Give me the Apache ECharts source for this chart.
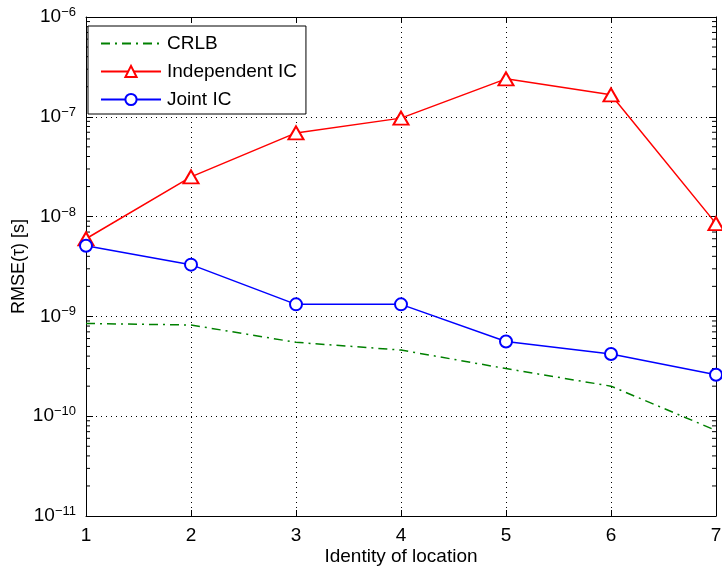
<!DOCTYPE html>
<html>
<head>
<meta charset="utf-8">
<script src="https://cdn.jsdelivr.net/npm/echarts@6/dist/echarts.min.js"></script>
<style>
  html, body { margin: 0; padding: 0; background: #fff; }
</style>
</head>
<body>
<div id="main" style="width: 722px;height:574px;"></div>
<script>
// location ids on the x axis
const locations = [1, 2, 3, 4, 5, 6, 7];
// RMSE values
const crlb = [8.5e-10, 8.2e-10, 5.5e-10, 4.6e-10, 3.0e-10, 2.0e-10, 7.2e-11];
const independentIC = [6.0e-9, 2.5e-8, 6.9e-8, 9.7e-8, 2.4e-7, 1.66e-7, 8.5e-9];
const jointIC = [5.1e-9, 3.3e-9, 1.32e-9, 1.32e-9, 5.6e-10, 4.2e-10, 2.6e-10];
// decade range of the y axis
const yMin = 1e-11;
const yMax = 1e-6;

const font = "Liberation Sans, Arial, sans-serif";

// minor tick values 2..9 x 10^k in each decade
const minorTicks = [];
for (let k = -11; k < -6; k++) {
  for (let m = 2; m <= 9; m++) minorTicks.push([1, m * Math.pow(10, k)]);
}

function pair(a) {
  return locations.map((x, i) => [x, a[i]]);
}

const chartDom = document.getElementById("main");
const myChart = echarts.init(chartDom);

const yLabel = {
  color: "#000",
  margin: 10,
  formatter: function (v) {
    const e = Math.round(Math.log10(v));
    return "{b|10}{s|" + (e < 0 ? "\u2212" : "") + Math.abs(e) + "}";
  },
  rich: {
    b: { fontSize: 19, fontFamily: font, color: "#000", lineHeight: 22 },
    s: { fontSize: 13, fontFamily: font, color: "#000", verticalAlign: "top", lineHeight: 13, padding: [0, 0, 12, 0] },
  },
};

const option = {
  animation: false,
  backgroundColor: "#fff",
  grid: { left: 86, right: 6, top: 17, bottom: 58, containLabel: false, outerBoundsMode: "none" },
  legend: {
    data: [
      { name: "CRLB", itemStyle: { opacity: 0 } },
      "Independent IC",
      "Joint IC",
    ],
    orient: "vertical",
    left: 88,
    top: 26,
    itemWidth: 60,
    itemHeight: 14,
    itemGap: 9,
    padding: [8, 9, 5, 12],
    borderColor: "#000",
    borderWidth: 1,
    borderRadius: 0,
    backgroundColor: "#fff",
    textStyle: { color: "#000", fontSize: 19, fontFamily: font, padding: [0, 0, 0, 1] },
  },
  xAxis: [
    {
      type: "value",
      min: 1,
      max: 7,
      interval: 1,
      name: "Identity of location",
      nameLocation: "middle",
      nameGap: 31,
      nameMoveOverlap: false,
      nameTextStyle: { color: "#000", fontSize: 19, fontFamily: font },
      axisLine: { lineStyle: { color: "#000", width: 1 } },
      axisTick: { inside: true, length: 6, lineStyle: { color: "#000" } },
      axisLabel: { color: "#000", fontSize: 19, fontFamily: font, margin: 10 },
      splitLine: { show: true, lineStyle: { color: "#000", type: [1, 4], width: 1 } },
    },
    {
      type: "value",
      position: "top",
      min: 1,
      max: 7,
      interval: 1,
      axisLine: { show: true, onZero: false, lineStyle: { color: "#000", width: 1 } },
      axisTick: { inside: true, length: 6, lineStyle: { color: "#000" } },
      axisLabel: { show: false },
      splitLine: { show: false },
    },
  ],
  yAxis: [
    {
      type: "log",
      logBase: 10,
      min: yMin,
      max: yMax,
      name: "RMSE(\u03c4) [s]",
      nameLocation: "middle",
      nameGap: 58,
      nameMoveOverlap: false,
      nameTextStyle: { color: "#000", fontSize: 18, fontFamily: font },
      axisLine: { show: true, lineStyle: { color: "#000", width: 1 } },
      axisTick: { show: true, inside: true, length: 7, lineStyle: { color: "#000" } },
      axisLabel: yLabel,
      splitLine: { show: true, lineStyle: { color: "#000", type: [1, 4], width: 1 } },
    },
    {
      type: "log",
      logBase: 10,
      min: yMin,
      max: yMax,
      position: "right",
      axisLine: { show: true, onZero: false, lineStyle: { color: "#000", width: 1 } },
      axisTick: { show: true, inside: true, length: 7, lineStyle: { color: "#000" } },
      axisLabel: { show: false },
      splitLine: { show: false },
    },
  ],
  series: [
    {
      name: "minor",
      type: "custom",
      silent: true,
      data: minorTicks,
      renderItem: function (params, api) {
        const v = api.value(1);
        const l = api.coord([1, v]);
        const r = api.coord([7, v]);
        const st = { stroke: "#000", lineWidth: 1 };
        return {
          type: "group",
          children: [
            { type: "line", shape: { x1: l[0], y1: l[1], x2: l[0] + 4, y2: l[1] }, style: st },
            { type: "line", shape: { x1: r[0] - 4, y1: r[1], x2: r[0], y2: r[1] }, style: st },
          ],
        };
      },
    },
    {
      name: "CRLB",
      type: "line",
      data: pair(crlb),
      symbol: "none",
      clip: false,
      lineStyle: { color: "#008000", width: 1.5, type: [9, 5, 2, 5] },
      itemStyle: { color: "#008000" },
    },
    {
      name: "Independent IC",
      type: "line",
      data: pair(independentIC),
      symbol: "emptyTriangle",
      symbolSize: [15, 13],
      showAllSymbol: true,
      clip: false,
      lineStyle: { color: "#ff0000", width: 1.5 },
      itemStyle: { color: "#ff0000", borderColor: "#ff0000", borderWidth: 1.5 },
    },
    {
      name: "Joint IC",
      type: "line",
      data: pair(jointIC),
      symbol: "emptyCircle",
      symbolSize: 12,
      showAllSymbol: true,
      clip: false,
      lineStyle: { color: "#0000ff", width: 1.5 },
      itemStyle: { color: "#0000ff", borderColor: "#0000ff", borderWidth: 1.5 },
    },
  ],
};
option && myChart.setOption(option);
</script>
</body>
</html>
